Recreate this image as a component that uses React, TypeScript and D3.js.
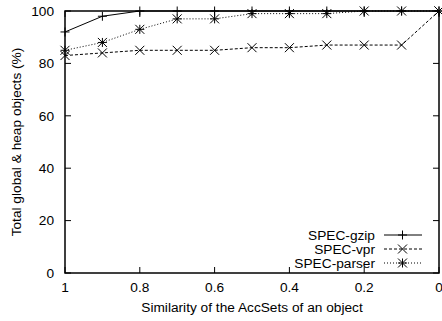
import React from "react";
import * as d3 from "d3";

const xs = [1, 0.9, 0.8, 0.7, 0.6, 0.5, 0.4, 0.3, 0.2, 0.1, 0];
const gzip = [92, 98, 100, 100, 100, 100, 100, 100, 100, 100, 100];
const vpr = [83, 84, 85, 85, 85, 86, 86, 87, 87, 87, 100];
const parser = [85, 88, 93, 97, 97, 99, 99, 99, 100, 100, 100];
const xTicks = [1, 0.8, 0.6, 0.4, 0.2, 0];
const yTicks = [0, 20, 40, 60, 80, 100];
const seriesNames = ["SPEC-gzip", "SPEC-vpr", "SPEC-parser"];

const W = 442, H = 321;
const L = 65, R = 439, T = 11, B = 273;
const font = "'Liberation Sans', Arial, Helvetica, sans-serif";
const fs = 13.7;

type Kind = "plus" | "cross" | "star";

function Marker({ x, y, kind }: { x: number; y: number; kind: Kind }) {
  const s = 4.5;
  const plus = `M${x - s},${y}H${x + s}M${x},${y - s}V${y + s}`;
  const cross = `M${x - s},${y - s}L${x + s},${y + s}M${x - s},${y + s}L${x + s},${y - s}`;
  const d = kind === "plus" ? plus : kind === "cross" ? cross : plus + cross;
  return <path d={d} stroke="#000" strokeWidth={1} fill="none" />;
}

export default function App() {
  const x = d3.scaleLinear().domain([1, 0]).range([L, R]);
  const y = d3.scaleLinear().domain([0, 100]).range([B, T]);
  const line = d3.line<number>().x((_, i) => x(xs[i])).y((v) => y(v));

  const series: { vals: number[]; dash?: string; kind: Kind }[] = [
    { vals: gzip, kind: "plus" },
    { vals: vpr, dash: "3,2", kind: "cross" },
    { vals: parser, dash: "1,2", kind: "star" },
  ];

  const tick = 6;
  return (
    <svg width={W} height={H} style={{ position: "absolute", left: 0, top: 0, background: "#fff" }}>
      {/* axis ticks, mirrored on all four sides */}
      {yTicks.map((t) => (
        <g key={"y" + t}>
          <line x1={L} x2={L + tick} y1={y(t)} y2={y(t)} stroke="#000" />
          <line x1={R} x2={R - tick} y1={y(t)} y2={y(t)} stroke="#000" />
          <text x={L - 11} y={y(t)} dy="0.35em" textAnchor="end" fontFamily={font} fontSize={fs}>
            {t}
          </text>
        </g>
      ))}
      {xTicks.map((t) => (
        <g key={"x" + t}>
          <line x1={x(t)} x2={x(t)} y1={B} y2={B - tick} stroke="#000" />
          <line x1={x(t)} x2={x(t)} y1={T} y2={T + tick} stroke="#000" />
          <text x={x(t)} y={B + 19} textAnchor="middle" fontFamily={font} fontSize={fs}>
            {t}
          </text>
        </g>
      ))}
      <rect x={L} y={T} width={R - L} height={B - T} fill="none" stroke="#000" strokeWidth={1.5} />

      {series.map((s, si) => (
        <g key={si}>
          <path d={line(s.vals) || ""} fill="none" stroke="#000" strokeWidth={1} strokeDasharray={s.dash} />
          {s.vals.map((v, i) => (
            <Marker key={i} x={x(xs[i])} y={y(v)} kind={s.kind} />
          ))}
        </g>
      ))}

      {/* legend */}
      {series.map((s, si) => {
        const ly = 235 + si * 14;
        return (
          <g key={"lg" + si}>
            <text x={375} y={ly} dy="0.35em" textAnchor="end" fontFamily={font} fontSize={fs}>
              {seriesNames[si]}
            </text>
            <line x1={384} x2={422} y1={ly} y2={ly} stroke="#000" strokeDasharray={s.dash} />
            <Marker x={402.5} y={ly} kind={s.kind} />
          </g>
        );
      })}

      <text x={(L + R) / 2} y={312} textAnchor="middle" fontFamily={font} fontSize={fs}>
        Similarity of the AccSets of an object
      </text>
      <text
        transform={`translate(21,${(T + B) / 2}) rotate(-90)`}
        textAnchor="middle"
        fontFamily={font}
        fontSize={fs}
      >
        Total global &amp; heap objects (%)
      </text>
    </svg>
  );
}
